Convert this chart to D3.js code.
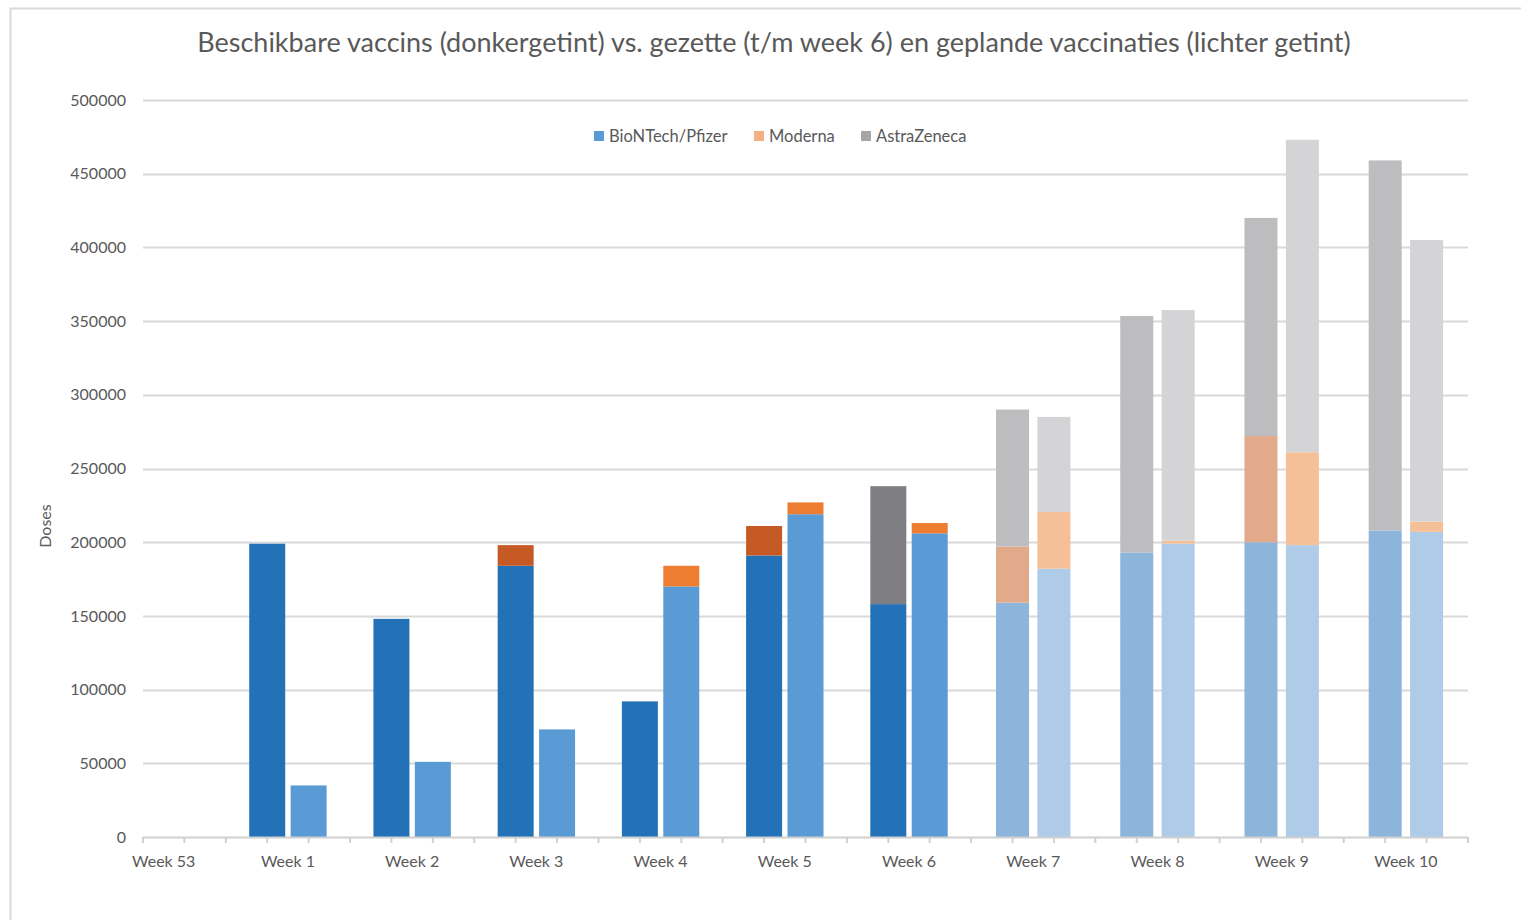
<!DOCTYPE html>
<html>
<head>
<meta charset="utf-8">
<script src="https://d3js.org/d3.v7.min.js"></script>
<style>
  body { margin: 0; background: #fff; }
  text { font-family: Lato, "Open Sans", sans-serif; fill: #595959; }
</style>
</head>
<body>
<div id="chart"></div>
<script>
  // weeks on the x axis
  var weeks = ["Week 53", "Week 1", "Week 2", "Week 3", "Week 4", "Week 5", "Week 6", "Week 7", "Week 8", "Week 9", "Week 10"]
  var series = ["BioNTech/Pfizer", "Moderna", "AstraZeneca"]

  // beschikbaar (darker bar)
  var pfizerAvail  = [0, 199000, 148000, 184000, 92000, 191000, 158000, 159000, 193000, 200000, 208000]
  var modernaAvail = [0, 0, 0, 14000, 0, 20000, 0, 38000, 0, 72000, 0]
  var azAvail      = [0, 0, 0, 0, 0, 0, 80000, 93000, 160500, 148000, 251000]

  // gezet / gepland (lighter bar)
  var pfizerDone  = [0, 35000, 51000, 73000, 170000, 219000, 206000, 182000, 199000, 198000, 207000]
  var modernaDone = [0, 0, 0, 0, 14000, 8000, 7000, 38500, 2000, 63000, 7000]
  var azDone      = [0, 0, 0, 0, 0, 0, 0, 64500, 156500, 212000, 191000]

  var yTicks = [0, 50000, 100000, 150000, 200000, 250000, 300000, 350000, 400000, 450000, 500000]

  var width = 1521, height = 920
  var margin = {left: 143, right: 53, top: 100, bottom: 83}

  // colours: [avail, done] for weeks up to 6, then the faded planned weeks
  var colors = {
    past: {
      avail: ["#2372b8", "#c55a24", "#7f7f83"],
      done:  ["#5b9bd5", "#ed7d31", "#a5a5a5"]
    },
    future: {
      avail: ["#8db4da", "#e2a98b", "#bdbdbf"],
      done:  ["#aecbe8", "#f5bf97", "#d4d4d6"]
    }
  }

  var svg = d3.select("#chart").append("svg")
    .attr("width", width)
    .attr("height", height)

  // frame
  svg.append("path")
    .attr("d", "M10.5,920 V8.5 H1521")
    .attr("fill", "none")
    .attr("stroke", "#d9d9d9")
    .attr("stroke-width", 2)

  // every week gets 3 slots: available, done, empty
  var slots = []
  weeks.forEach(w => { slots.push(w + "|avail", w + "|done", w + "|gap") })

  var x = d3.scalePoint()
    .domain(slots)
    .range([margin.left, width - margin.right])

  var y = d3.scaleLinear()
    .domain([0, 500000])
    .range([height - margin.bottom, margin.top])

  // gridlines
  svg.append("g")
    .selectAll("line")
    .data(yTicks.slice(1))
    .enter()
    .append("line")
    .attr("x1", margin.left)
    .attr("x2", width - margin.right)
    .attr("y1", d => Math.round(y(d)) + 0.5)
    .attr("y2", d => Math.round(y(d)) + 0.5)
    .attr("stroke", "#d9d9d9")
    .attr("stroke-width", 2)

  // y labels
  svg.append("g")
    .selectAll("text")
    .data(yTicks)
    .enter()
    .append("text")
    .attr("x", 126)
    .attr("y", d => y(d))
    .attr("dy", "0.35em")
    .attr("text-anchor", "end")
    .style("font-size", "16px")
    .text(d => d)

  svg.append("text")
    .attr("transform", "translate(51," + 526 + ") rotate(-90)")
    .attr("text-anchor", "middle")
    .style("font-size", "16px")
    .text("Doses")

  // build rows for the stacks
  function rows(p, m, a, kind) {
    return weeks.map((w, i) => ({week: w, kind: kind, i: i, "BioNTech/Pfizer": p[i], "Moderna": m[i], "AstraZeneca": a[i]}))
  }
  var stack = d3.stack().keys(series)
  var availStack = stack(rows(pfizerAvail, modernaAvail, azAvail, "avail"))
  var doneStack = stack(rows(pfizerDone, modernaDone, azDone, "done"))

  function barWidth(i) { return i >= 7 ? 33 : 36 }

  function drawStack(layers, kind) {
    layers.forEach((layer, si) => {
      svg.append("g")
        .selectAll("rect")
        .data(layer.filter(d => d[1] - d[0] > 0))
        .enter()
        .append("rect")
        .attr("x", d => x(d.data.week + "|" + kind) - barWidth(d.data.i) / 2)
        .attr("width", d => barWidth(d.data.i))
        .attr("y", d => y(d[1]))
        .attr("height", d => y(d[0]) - y(d[1]))
        .attr("fill", d => (d.data.i >= 7 ? colors.future : colors.past)[kind][si])
    })
  }
  drawStack(availStack, "avail")
  drawStack(doneStack, "done")

  // x axis line + ticks
  var base = y(0)
  svg.append("line")
    .attr("x1", margin.left)
    .attr("x2", width - margin.right)
    .attr("y1", base + 0.5)
    .attr("y2", base + 0.5)
    .attr("stroke", "#d0d0d0")
    .attr("stroke-width", 2)

  svg.append("g")
    .selectAll("line")
    .data(slots)
    .enter()
    .append("line")
    .attr("x1", d => x(d))
    .attr("x2", d => x(d))
    .attr("y1", base)
    .attr("y2", base + 6)
    .attr("stroke", "#d0d0d0")
    .attr("stroke-width", 2)

  svg.append("g")
    .selectAll("text")
    .data(weeks)
    .enter()
    .append("text")
    .attr("x", d => (x(d + "|avail") + x(d + "|done")) / 2)
    .attr("y", 861)
    .attr("dy", "0.35em")
    .attr("text-anchor", "middle")
    .style("font-size", "16px")
    .text(d => d)

  // title
  svg.append("text")
    .attr("x", 774)
    .attr("y", 43)
    .attr("dy", "0.35em")
    .attr("text-anchor", "middle")
    .style("font-size", "27px")
    .text("Beschikbare vaccins (donkergetint) vs. gezette (t/m week 6) en geplande vaccinaties (lichter getint)")

  // legend
  var legendColors = ["#5b9bd5", "#f4b183", "#a5a5a5"]
  var legendX = [594, 754, 861]
  var legend = svg.append("g")
    .selectAll("g")
    .data(series)
    .enter()
    .append("g")
    .attr("transform", (d, i) => "translate(" + legendX[i] + ",136)")
  legend.append("rect")
    .attr("x", 0)
    .attr("y", -5)
    .attr("width", 10)
    .attr("height", 10)
    .attr("fill", (d, i) => legendColors[i])
  legend.append("text")
    .attr("x", 15)
    .attr("dy", "0.35em")
    .style("font-size", "16.5px")
    .text(d => d)
</script>
</body>
</html>
